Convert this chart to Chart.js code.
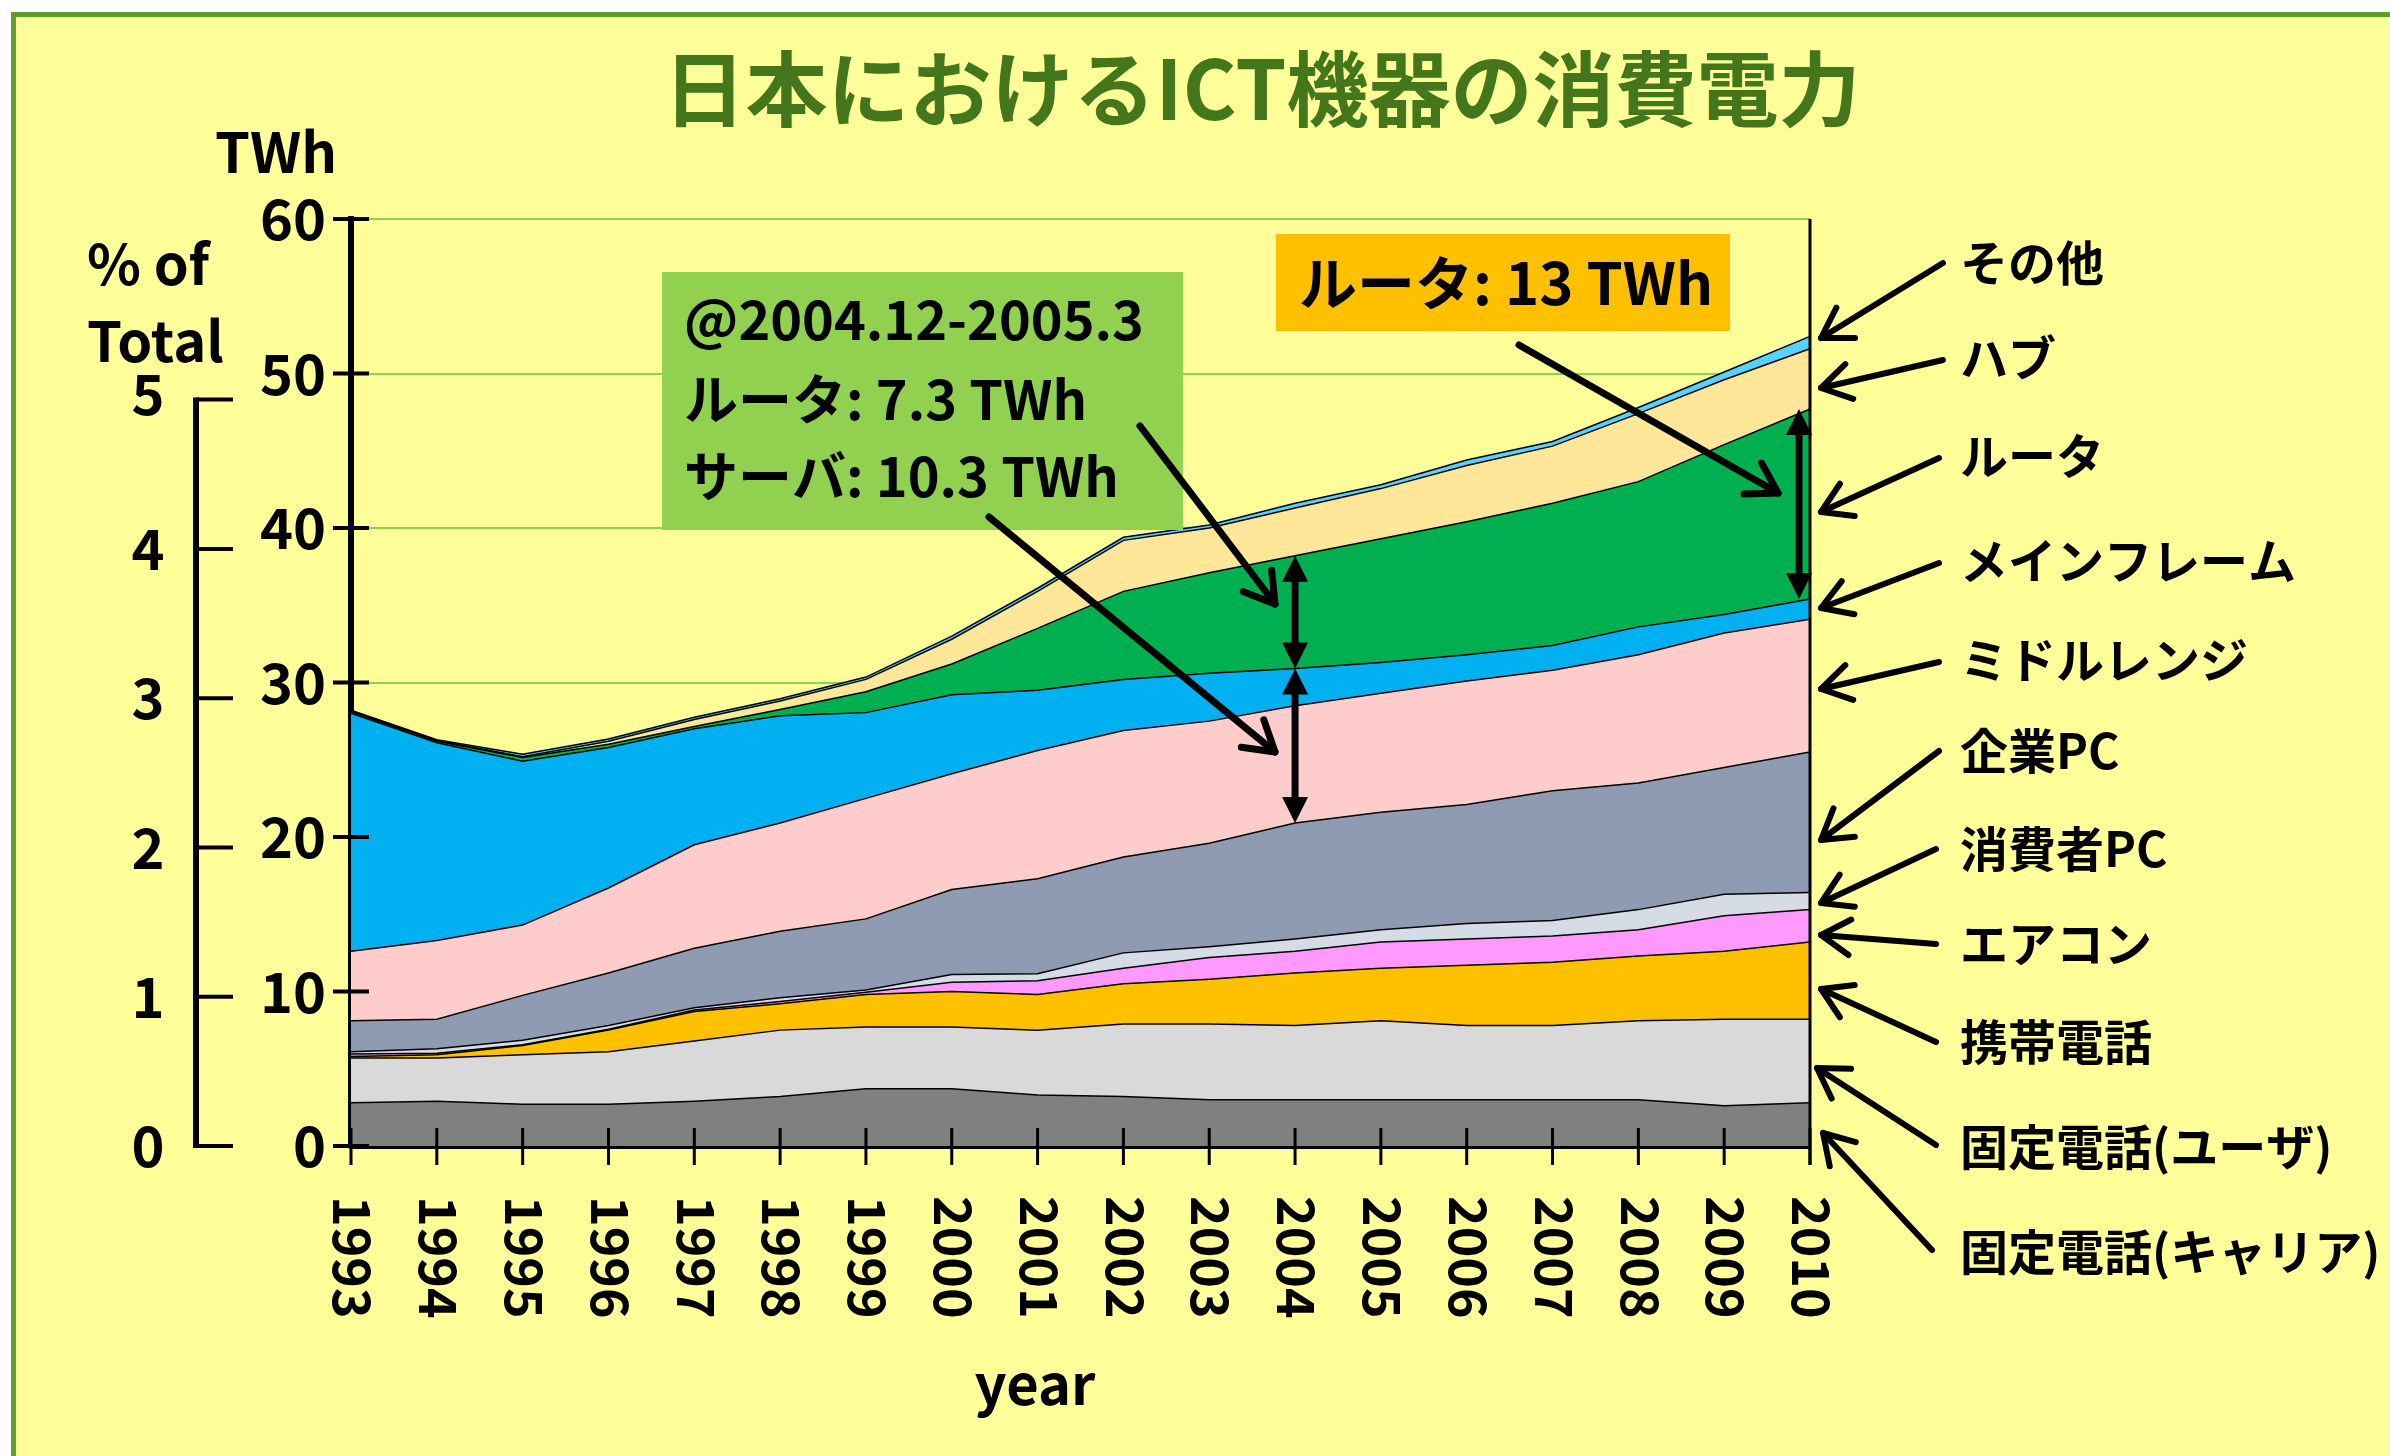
<!DOCTYPE html>
<html>
<head>
<meta charset="utf-8">
<title>日本におけるICT機器の消費電力</title>
<script src="https://cdn.jsdelivr.net/npm/chart.js@4.4.1/dist/chart.umd.min.js"></script>
<style>
    html, body { margin: 0; padding: 0; background: #ffffff; }
    #wrapper { width: 2390px; height: 1456px; }
</style>
</head>
<body>
<div id="wrapper">
    <canvas id="ictChart" width="2390" height="1456"></canvas>
</div>
<script>
// Data (TWh, each series stacked on the previous one)

var years = ['1993', '1994', '1995', '1996', '1997', '1998', '1999', '2000', '2001',
    '2002', '2003', '2004', '2005', '2006', '2007', '2008', '2009', '2010'];

var carrierPhone = [2.8, 2.9, 2.7, 2.7, 2.9, 3.2, 3.7, 3.7, 3.3, 3.2, 3.0, 3.0, 3.0, 3.0, 3.0, 3.0, 2.6, 2.8];
var userPhone = [2.9, 2.8, 3.2, 3.4, 3.9, 4.3, 4.0, 4.0, 4.2, 4.7, 4.9, 4.8, 5.1, 4.8, 4.8, 5.1, 5.6, 5.4];
var mobilePhone = [0.1, 0.2, 0.6, 1.4, 1.9, 1.7, 2.1, 2.3, 2.3, 2.6, 2.9, 3.4, 3.4, 3.9, 4.1, 4.2, 4.4, 5.0];
var airCon = [0.15, 0.1, 0.05, 0.05, 0.1, 0.15, 0.15, 0.6, 0.9, 1.0, 1.4, 1.4, 1.7, 1.7, 1.7, 1.7, 2.3, 2.1];
var consumerPC = [0.15, 0.3, 0.3, 0.25, 0.15, 0.25, 0.15, 0.5, 0.45, 1.0, 0.7, 0.8, 0.8, 1.0, 1.0, 1.3, 1.4, 1.1];
var enterprisePC = [2.0, 1.9, 2.9, 3.4, 3.85, 4.3, 4.6, 5.5, 6.15, 6.2, 6.7, 7.5, 7.6, 7.7, 8.4, 8.2, 8.2, 9.1];
var midrange = [4.5, 5.1, 4.55, 5.5, 6.7, 7.0, 7.8, 7.5, 8.3, 8.2, 7.9, 7.6, 7.7, 8.0, 7.8, 8.3, 8.7, 8.6];
var mainframe = [15.4, 12.8, 10.6, 9.1, 7.5, 6.95, 5.55, 5.1, 3.9, 3.3, 3.1, 2.4, 2.0, 1.7, 1.6, 1.8, 1.2, 1.3];
var router = [0.1, 0.1, 0.25, 0.2, 0.15, 0.4, 1.35, 2.0, 4.0, 5.7, 6.5, 7.3, 8.0, 8.6, 9.2, 9.4, 11.0, 12.3];
var hub = [0.05, 0.05, 0.05, 0.2, 0.45, 0.55, 0.8, 1.6, 2.4, 3.3, 2.9, 3.1, 3.25, 3.65, 3.7, 4.4, 4.2, 3.9];
var other = [0.05, 0.05, 0.15, 0.15, 0.15, 0.15, 0.15, 0.2, 0.2, 0.2, 0.2, 0.3, 0.25, 0.35, 0.3, 0.4, 0.5, 0.8];

var seriesNames = ['固定電話(キャリア)', '固定電話(ユーザ)', '携帯電話', 'エアコン', '消費者PC', '企業PC',
    'ミドルレンジ', 'メインフレーム', 'ルータ', 'ハブ', 'その他'];
var seriesData = [carrierPhone, userPhone, mobilePhone, airCon, consumerPC, enterprisePC,
    midrange, mainframe, router, hub, other];

var twhTicks = [0, 10, 20, 30, 40, 50, 60];
var pctTicks = [0, 1, 2, 3, 4, 5];

// Styles

var FONT = '"Noto Sans CJK JP", "Noto Sans", sans-serif';
var seriesColors = ['#808080', '#d9d9d9', '#ffc000', '#ff99ff', '#d6dce5', '#8e9bb2',
    '#ffcccc', '#00b0f0', '#00b050', '#ffe699', '#55d2ff'];

// label position of each series on the right (y centre), arrow tail and tip
var labelY = [1252, 1147, 1042, 944, 849, 751, 660, 561, 456, 358, 263];
var arrowTail = [[1932, 1250], [1936, 1145], [1936, 1042], [1936, 944], [1936, 849], [1939, 751],
    [1939, 662], [1939, 563], [1939, 458], [1943, 360], [1943, 263]];
var arrowTip = [[1823, 1133], [1817, 1068], [1821, 989], [1821, 935], [1821, 903], [1821, 840],
    [1821, 689], [1821, 608], [1821, 512], [1821, 388], [1821, 338]];

function stackTop(index, count)
{
    var s = 0;
    for (var k = 0; k < count; k++)
    {
        s += seriesData[k][index];
    }
    return s;
}

function pointer(ctx, x1, y1, x2, y2, w, head)
{
    var a = Math.atan2(y2 - y1, x2 - x1);
    ctx.save();
    ctx.strokeStyle = '#000000';
    ctx.lineWidth = w;
    ctx.lineCap = 'round';
    ctx.lineJoin = 'round';
    ctx.beginPath();
    ctx.moveTo(x1, y1);
    ctx.lineTo(x2, y2);
    ctx.stroke();
    ctx.beginPath();
    ctx.moveTo(x2 - head * Math.cos(a - 0.55), y2 - head * Math.sin(a - 0.55));
    ctx.lineTo(x2, y2);
    ctx.lineTo(x2 - head * Math.cos(a + 0.55), y2 - head * Math.sin(a + 0.55));
    ctx.stroke();
    ctx.restore();
}

function doubleArrow(ctx, x, yTop, yBot)
{
    var h = 26, hw = 13;
    ctx.save();
    ctx.strokeStyle = '#000000';
    ctx.fillStyle = '#000000';
    ctx.lineWidth = 7;
    ctx.beginPath();
    ctx.moveTo(x, yTop + h - 2);
    ctx.lineTo(x, yBot - h + 2);
    ctx.stroke();
    ctx.beginPath();
    ctx.moveTo(x, yTop);
    ctx.lineTo(x - hw, yTop + h);
    ctx.lineTo(x + hw, yTop + h);
    ctx.closePath();
    ctx.fill();
    ctx.beginPath();
    ctx.moveTo(x, yBot);
    ctx.lineTo(x - hw, yBot - h);
    ctx.lineTo(x + hw, yBot - h);
    ctx.closePath();
    ctx.fill();
    ctx.restore();
}

// Background, frame, texts, axes decorations and annotations

var decorations = {
    id: 'decorations',
    beforeDraw: function (chart)
    {
        var ctx = chart.ctx;
        ctx.save();
        ctx.fillStyle = '#ffffff';
        ctx.fillRect(0, 0, chart.width, chart.height);
        ctx.fillStyle = '#ffff99';
        ctx.fillRect(16, 17, chart.width - 16, chart.height - 17);
        ctx.fillStyle = '#5f9e2f';
        ctx.fillRect(11, 12, 5, chart.height - 12);
        ctx.fillRect(11, 12, chart.width - 11, 5);
        ctx.restore();
    },
    afterDraw: function (chart)
    {
        var ctx = chart.ctx;
        var area = chart.chartArea;
        var xs = chart.scales.x;
        var ys = chart.scales.y;
        var ps = chart.scales.y2;

        ctx.save();

        // Title
        ctx.fillStyle = '#44761c';
        ctx.font = 'bold 82px ' + FONT;
        ctx.textAlign = 'center';
        ctx.textBaseline = 'middle';
        ctx.fillText('日本におけるICT機器の消費電力', 1262, 89);

        // Axis titles
        ctx.fillStyle = '#000000';
        ctx.font = 'bold 56px ' + FONT;
        ctx.textBaseline = 'alphabetic';
        ctx.fillText('TWh', 276, 173);
        ctx.fillText('year', 1035, 1405);
        ctx.textAlign = 'left';
        ctx.fillText('% of', 87, 285);
        ctx.fillText('Total', 87, 362);

        // % of Total axis
        ctx.strokeStyle = '#000000';
        ctx.lineWidth = 6;
        ctx.beginPath();
        ctx.moveTo(196, ps.getPixelForValue(pctTicks[pctTicks.length - 1]) - 2);
        ctx.lineTo(196, ps.getPixelForValue(0) + 2);
        ctx.stroke();
        ctx.lineWidth = 4;
        ctx.textAlign = 'center';
        ctx.textBaseline = 'middle';
        pctTicks.forEach(function (v)
        {
            var py = ps.getPixelForValue(v);
            ctx.beginPath();
            ctx.moveTo(196, py);
            ctx.lineTo(233, py);
            ctx.stroke();
            ctx.fillText(String(v), 148, py - (v === 5 ? 6 : 0));
        });

        // TWh axis tick marks (crossing the axis line)
        twhTicks.forEach(function (v)
        {
            var py = ys.getPixelForValue(v);
            ctx.beginPath();
            ctx.moveTo(area.left - 18, py);
            ctx.lineTo(area.left + 18, py);
            ctx.stroke();
        });

        // right frame line
        ctx.lineWidth = 3;
        ctx.beginPath();
        ctx.moveTo(area.right, area.top);
        ctx.lineTo(area.right, area.bottom + 19);
        ctx.stroke();

        // year ticks and rotated labels
        ctx.font = 'bold 52px ' + FONT;
        ctx.textAlign = 'left';
        ctx.textBaseline = 'middle';
        years.forEach(function (label, i)
        {
            var px = xs.getPixelForValue(i);
            ctx.beginPath();
            ctx.moveTo(px, area.bottom - 18);
            ctx.lineTo(px, area.bottom + 19);
            ctx.stroke();
            ctx.save();
            ctx.translate(px + 2, 1196);
            ctx.rotate(Math.PI / 2);
            ctx.fillText(label, 0, 0);
            ctx.restore();
        });

        // double arrows: 2004 router and servers, 2010 router
        var i04 = years.indexOf('2004');
        var x04 = xs.getPixelForValue(i04);
        doubleArrow(ctx, x04, ys.getPixelForValue(stackTop(i04, 9)), ys.getPixelForValue(stackTop(i04, 8)));
        doubleArrow(ctx, x04, ys.getPixelForValue(stackTop(i04, 8)), ys.getPixelForValue(stackTop(i04, 6)));
        var i10 = years.length - 1;
        doubleArrow(ctx, xs.getPixelForValue(i10) - 11, ys.getPixelForValue(stackTop(i10, 9)),
            ys.getPixelForValue(stackTop(i10, 8)));

        // annotation boxes
        ctx.fillStyle = '#92d050';
        ctx.fillRect(662, 272, 521, 258);
        ctx.fillStyle = '#ffc000';
        ctx.fillRect(1276, 234, 454, 97);

        ctx.fillStyle = '#000000';
        ctx.textBaseline = 'alphabetic';
        ctx.font = 'bold 54px ' + FONT;
        ctx.fillText('@2004.12-2005.3', 684, 340);
        ctx.fillText('ルータ: 7.3 TWh', 684, 420);
        ctx.fillText('サーバ: 10.3 TWh', 684, 497);
        ctx.font = 'bold 58px ' + FONT;
        ctx.fillText('ルータ: 13 TWh', 1299, 305);

        pointer(ctx, 1140, 426, 1275, 604, 7, 34);
        pointer(ctx, 989, 517, 1275, 752, 7, 34);
        pointer(ctx, 1519, 345, 1778, 493, 7, 34);

        // series names on the right
        ctx.font = 'bold 48px ' + FONT;
        ctx.textBaseline = 'middle';
        seriesNames.forEach(function (name, k)
        {
            ctx.fillText(name, 1960, labelY[k]);
            pointer(ctx, arrowTail[k][0], arrowTail[k][1], arrowTip[k][0], arrowTip[k][1], 6, 34);
        });

        ctx.restore();
    }
};

// Chart

var datasets = seriesData.map(function (values, k)
{
    return {
        label: seriesNames[k],
        data: values,
        backgroundColor: seriesColors[k],
        borderColor: '#000000',
        borderWidth: 1.5,
        pointRadius: 0,
        tension: 0,
        fill: k === 0 ? 'origin' : '-1'
    };
});

var ctx = document.getElementById('ictChart').getContext('2d');
var myChart = new Chart(ctx,
{
    type: 'line',
    data:
    {
        labels: years,
        datasets: datasets
    },
    options:
    {
        responsive: false,
        animation: false,
        devicePixelRatio: 1,
        layout:
        {
            padding: { left: 0, top: 219, right: 580, bottom: 0 }
        },
        plugins:
        {
            legend: { display: false },
            tooltip: { enabled: false }
        },
        scales:
        {
            x:
            {
                type: 'category',
                offset: false,
                grid: { display: true, drawOnChartArea: false, drawTicks: false, color: 'rgba(0,0,0,0)' },
                border: { display: true, color: '#000000', width: 5 },
                ticks: { display: false },
                afterFit: function (scale)
                {
                    scale.height = 310;
                }
            },
            y:
            {
                stacked: true,
                min: 0,
                max: 60,
                z: 1,
                afterBuildTicks: function (scale)
                {
                    scale.ticks = twhTicks.map(function (v) { return { value: v }; });
                },
                ticks:
                {
                    color: '#000000',
                    padding: 25,
                    font: { family: FONT, size: 56, weight: 'bold' }
                },
                grid:
                {
                    drawTicks: false,
                    lineWidth: 2,
                    color: function (c)
                    {
                        return c.tick && c.tick.value >= 30 ? '#92d050' : 'rgba(0,0,0,0)';
                    }
                },
                border: { display: true, color: '#000000', width: 6 },
                afterFit: function (scale)
                {
                    scale.width = 351;
                }
            },
            y2:
            {
                display: false,
                position: 'left',
                min: 0,
                max: 6.21
            }
        }
    },
    plugins: [decorations]
});
</script>
</body>
</html>
